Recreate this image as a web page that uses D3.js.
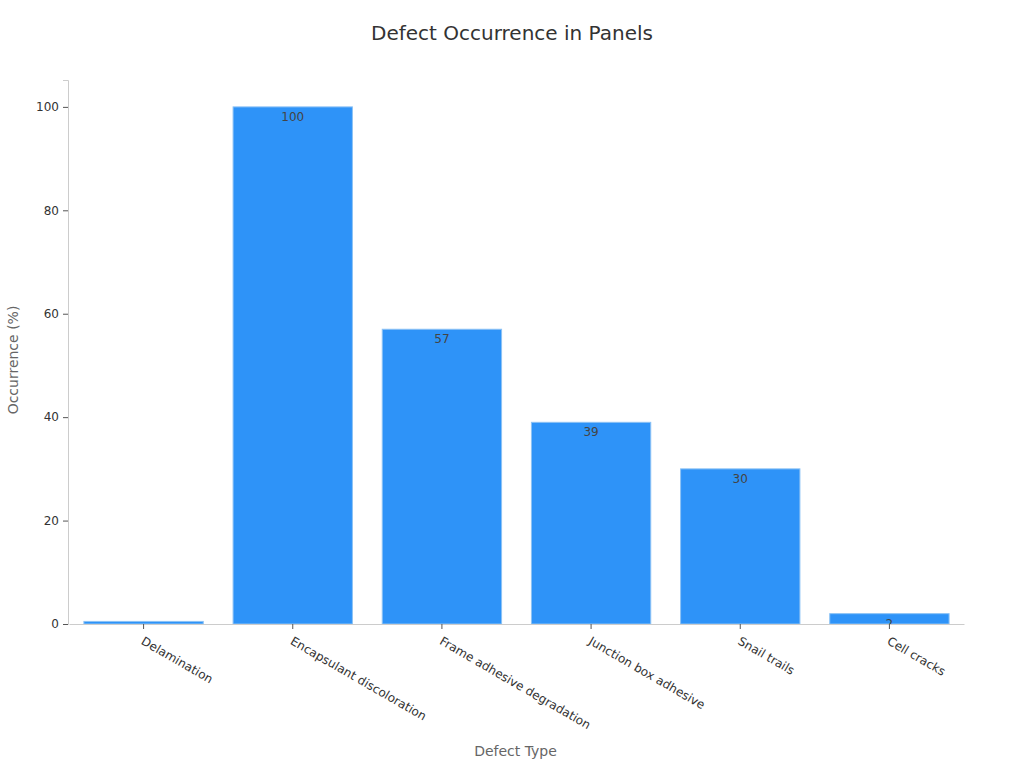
<!DOCTYPE html>
<html>
<head>
<meta charset="utf-8">
<script src="https://cdn.jsdelivr.net/npm/d3@7"></script>
<style>
  body { margin: 0; background: #fff; }
  svg text { font-family: "DejaVu Sans", sans-serif; }
</style>
</head>
<body>
<svg id="chart" width="1024" height="768"></svg>
<script>
const categories = ["Delamination", "Encapsulant discoloration", "Frame adhesive degradation",
  "Junction box adhesive", "Snail trails", "Cell cracks"];
const occurrence = [0.5, 100, 57, 39, 30, 2];
const yTicks = [0, 20, 40, 60, 80, 100];

const margin = { top: 80, right: 61, bottom: 144, left: 68 };
const width = 1024 - margin.left - margin.right;
const height = 768 - margin.top - margin.bottom;

const svg = d3.select("#chart");

svg.append("text")
  .attr("x", 512).attr("y", 40)
  .attr("text-anchor", "middle")
  .attr("font-size", 20)
  .attr("fill", "#333")
  .text("Defect Occurrence in Panels");

const g = svg.append("g")
  .attr("transform", `translate(${margin.left},${margin.top})`);

const x = d3.scaleBand()
  .domain(categories)
  .range([1, width + 1])
  .paddingInner(0.2)
  .paddingOuter(0.1);

const y = d3.scaleLinear()
  .domain([0, 105.2])
  .range([height, 0]);

// bars
const bars = g.selectAll(".bar")
  .data(categories.map((c, i) => ({ c, v: occurrence[i], i })))
  .enter().append("g");

bars.append("clipPath")
  .attr("id", d => "clip" + d.i)
  .append("rect")
  .attr("x", d => x(d.c))
  .attr("y", d => y(d.v))
  .attr("width", x.bandwidth())
  .attr("height", d => height - y(d.v));

bars.append("rect")
  .attr("x", d => x(d.c))
  .attr("y", d => y(d.v))
  .attr("width", x.bandwidth())
  .attr("height", d => height - y(d.v))
  .attr("fill", "#2e93f8")
  .attr("stroke", "#8cc2f5")
  .attr("stroke-width", 1);

bars.append("text")
  .attr("clip-path", d => `url(#clip${d.i})`)
  .attr("x", d => x(d.c) + x.bandwidth() / 2)
  .attr("y", d => y(d.v) + 14)
  .attr("text-anchor", "middle")
  .attr("font-size", 12)
  .attr("fill", "#444")
  .text(d => d.v);

// y axis
const yAxis = g.append("g")
  .call(d3.axisLeft(y).tickValues(yTicks).tickSize(5).tickPadding(4));
yAxis.select(".domain").attr("stroke", "#ccc");
yAxis.selectAll(".tick line").attr("stroke", "#555");
yAxis.selectAll(".tick text")
  .attr("font-size", 12)
  .attr("fill", "#333")
  .style("font-family", "DejaVu Sans");

// x axis
const xAxis = g.append("g")
  .attr("transform", `translate(0,${height})`)
  .call(d3.axisBottom(x).tickSize(5).tickSizeOuter(0));
xAxis.select(".domain").attr("stroke", "#ccc");
xAxis.selectAll(".tick line").attr("stroke", "#555");
xAxis.selectAll(".tick text")
  .attr("font-size", 12)
  .attr("fill", "#333")
  .style("font-family", "DejaVu Sans")
  .attr("text-anchor", "start")
  .attr("transform", "translate(4,7) rotate(30)")
  .attr("dy", "0.71em")
  .attr("y", 6)
  .attr("x", 0);

svg.append("text")
  .attr("x", margin.left + width / 2)
  .attr("y", 756)
  .attr("text-anchor", "middle")
  .attr("font-size", 14)
  .attr("fill", "#666")
  .text("Defect Type");

svg.append("text")
  .attr("transform", `translate(18,${margin.top + height / 2 + 8}) rotate(-90)`)
  .attr("text-anchor", "middle")
  .attr("font-size", 14)
  .attr("fill", "#666")
  .text("Occurrence (%)");
</script>
</body>
</html>
